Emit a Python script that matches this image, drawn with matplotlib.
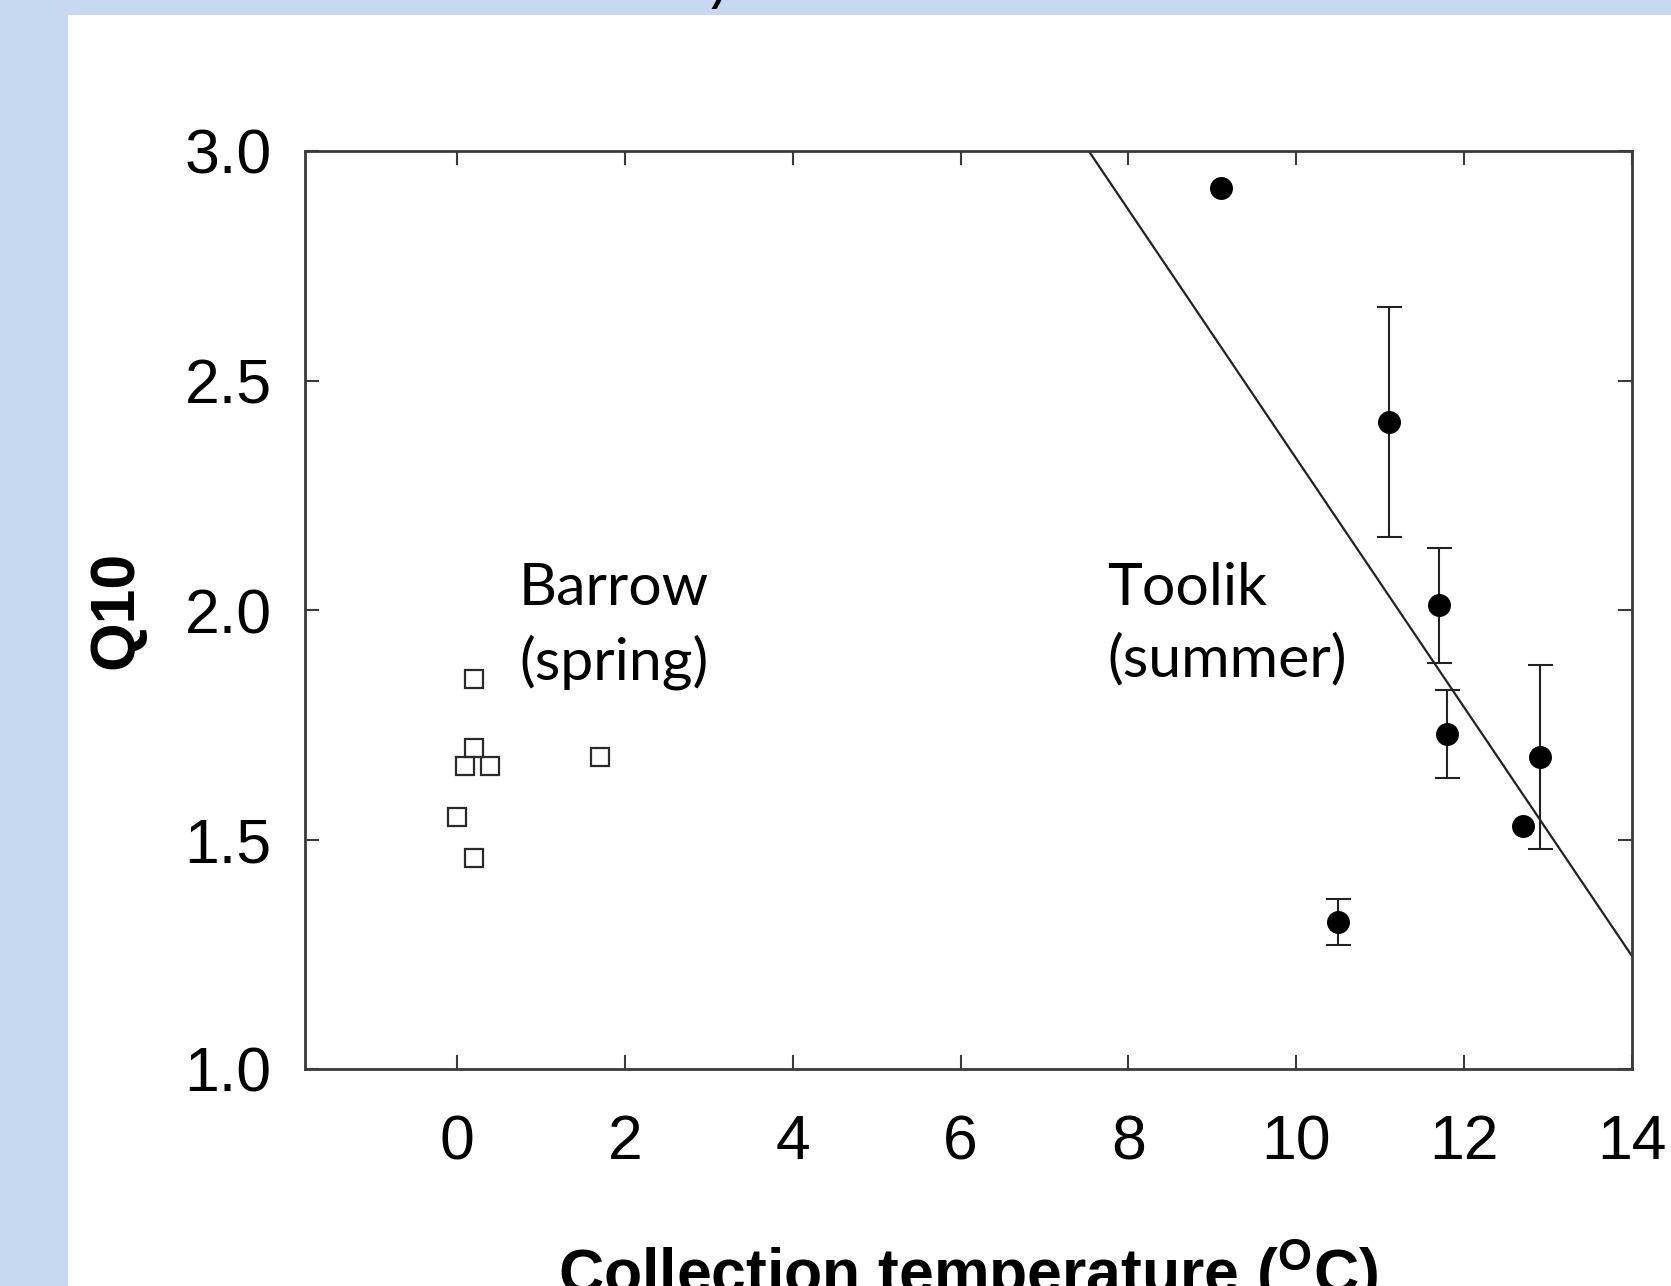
import matplotlib
matplotlib.use("Agg")
import matplotlib.pyplot as plt
import numpy as np
from matplotlib.patches import Rectangle

plt.rcParams["mathtext.fontset"] = "custom"
plt.rcParams["mathtext.rm"] = "Liberation Sans:bold"
plt.rcParams["mathtext.bf"] = "Liberation Sans:bold"

# ---- data ----
barrow_temp = [0.20, 0.20, 0.10, 0.40, 1.70, 0.00, 0.20]
barrow_q10 = [1.85, 1.70, 1.66, 1.66, 1.68, 1.55, 1.46]

toolik_temp = [9.10, 11.10, 11.70, 11.80, 12.90, 12.70, 10.50]
toolik_q10 = [2.92, 2.41, 2.01, 1.73, 1.68, 1.53, 1.32]
toolik_err = [0.0, 0.25, 0.125, 0.095, 0.20, 0.0, 0.05]

fit_intercept = 5.04
fit_slope = -0.271

x_ticks = [0, 2, 4, 6, 8, 10, 12, 14]
y_ticks = [1.0, 1.5, 2.0, 2.5, 3.0]
y_tick_labels = ["1.0", "1.5", "2.0", "2.5", "3.0"]

# ---- figure ----
W, H = 1671, 1286
fig = plt.figure(figsize=(W / 100, H / 100), dpi=100)
fig.patch.set_facecolor("#C6D9F1")
panel = Rectangle((68 / W, 0), 1 - 68 / W, 1 - 15 / H,
                  transform=fig.transFigure, facecolor="white",
                  edgecolor="none", zorder=-10)
fig.patches.append(panel)
# descender of the cut-off slide title
fig.text(708 / W, 1 + 1 / H, "y", fontsize=44, family="Lato",
         style="italic", va="baseline", ha="left", color="black", zorder=5)

ax = fig.add_axes([305 / W, 1 - 1069 / H, (1632 - 305) / W, (1069 - 151) / H])
ax.set_zorder(2)
ax.set_facecolor("white")
ax.set_xlim(-1.81, 14)
ax.set_ylim(1.0, 3.0)

spine_c = "#3a3a3a"
for s in ax.spines.values():
    s.set_linewidth(2.0)
    s.set_color(spine_c)

ax.set_xticks(x_ticks)
ax.set_xticklabels([str(t) for t in x_ticks])
ax.set_yticks(y_ticks)
ax.set_yticklabels(y_tick_labels)
ax.tick_params(direction="in", length=10, width=1.5, color=spine_c,
               top=True, right=True, labelsize=45)
ax.tick_params(axis="x", pad=32)
ax.tick_params(axis="y", pad=24)
for lab in ax.get_xticklabels() + ax.get_yticklabels():
    lab.set_family("Liberation Sans")

# regression line
xf = np.array([7.0, 14.5])
ax.plot(xf, fit_intercept + fit_slope * xf, color="#222222", lw=1.6, zorder=2)

# Barrow squares
ax.plot(barrow_temp, barrow_q10, linestyle="none", marker="s", ms=13.5,
        mfc="none", mec="#2a2a2a", mew=1.6, zorder=3)

# Toolik circles with error bars
tt = np.array(toolik_temp)
tq = np.array(toolik_q10)
te = np.array(toolik_err)
m = te > 0
ax.errorbar(tt[m], tq[m], yerr=te[m], fmt="none", ecolor="#222222",
            elinewidth=1.5, capsize=9, capthick=1.5, zorder=3)
ax.plot(tt, tq, linestyle="none", marker="o", ms=15.5, mfc="black",
        mec="black", zorder=4)

# annotations
ax.text(0.74, 2.105, "Barrow\n(spring)", family="Lato", fontsize=42.5,
        va="top", ha="left", linespacing=1.42)
ax.text(7.75, 2.105, "Toolik\n(summer)", family="Lato", fontsize=42.5,
        va="top", ha="left", linespacing=1.42)

# axis labels
ax.set_ylabel("Q10", family="Liberation Sans", fontweight="bold", fontsize=45)
ax.yaxis.set_label_coords(-0.120, 0.5)
ax.set_xlabel(r"Collection temperature ($^{\mathrm{O}}$C)",
              family="Liberation Sans", fontweight="bold", fontsize=45)
ax.xaxis.set_label_coords(0.5, -0.183)

fig.savefig("out.png", dpi=100, facecolor=fig.get_facecolor())
